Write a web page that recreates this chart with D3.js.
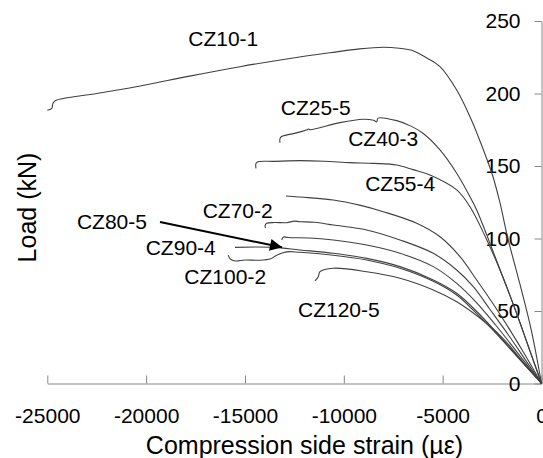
<!DOCTYPE html>
<html><head><meta charset="utf-8">
<script src="https://cdn.jsdelivr.net/npm/d3@7"></script>
<style>
html,body{margin:0;padding:0;background:#fff;}
svg{display:block;font-family:"Liberation Sans",Arial,sans-serif;}
</style></head>
<body><svg id="chart" width="543" height="458"></svg>
<script>
// ---- data (strain µε, load kN) ----
const xTicks = [-25000,-20000,-15000,-10000,-5000,0];
const yTicks = [0,50,100,150,200,250];
const seriesNames = ["CZ10-1","CZ25-5","CZ40-3","CZ55-4","CZ70-2","CZ80-5","CZ90-4","CZ100-2","CZ120-5"];
const cz10_1 = [[-25000,188.5],[-24780,189.5],[-24720,193],[-24600,195],[-22500,200],[-20300,205.2],[-17800,212],[-15250,218.5],[-12800,224],[-10700,228.1],[-9200,230.8],[-8000,231.9],[-7200,231.2],[-6500,229.5],[-5800,224.5],[-5135,218.5],[-4290,202.4],[-3617,184],[-2960,161.9],[-2454,142.6],[-2099,124.5],[-1700,100],[-1100,69],[-520,37],[0,0]];
const cz25_5 = [[-13229,166.1],[-13200,169.8],[-12500,172.5],[-11879,174.8],[-11800,175.5],[-11700,175],[-10194,179.9],[-9015,182.2],[-8500,181.5],[-8337,180.4],[-8271,183],[-7325,181.3],[-6600,177.5],[-5995,172.6],[-5135,161.1],[-4290,145],[-3617,128.8],[-3278,119.7],[-2700,100],[-2000,75],[-1300,50],[-650,25],[0,0]];
const cz40_3 = [[-14443,148.4],[-14418,152.4],[-13500,153.2],[-12218,153.7],[-11000,153.3],[-9688,152.3],[-8500,151.8],[-7325,150.7],[-6500,147.5],[-5641,143.8],[-4290,133.5],[-3617,121.9],[-2800,100],[-2000,75],[-1250,48],[-600,23],[0,0]];
const cz55_4 = [[-12926,129.3],[-11800,128.2],[-10533,126.6],[-9200,123],[-8003,118.5],[-6314,110.5],[-5135,101.2],[-4123,87.5],[-3278,71.4],[-2400,54],[-1600,37],[-800,19],[0,0]];
const cz70_2 = [[-13963,107.2],[-13980,109],[-13902,110.5],[-13500,111],[-12891,110.9],[-12500,112],[-12218,111.6],[-11500,111.2],[-10533,109.3],[-8843,105.9],[-7158,99],[-5474,89.8],[-4290,78.3],[-3450,66.8],[-2600,51],[-1700,34],[-850,17],[0,0]];
const cz80_5 = [[-13143,99],[-13050,101],[-12825,100.7],[-11500,100.2],[-10533,99],[-8843,95.5],[-7158,89.8],[-5474,80.6],[-4290,69.1],[-3300,56],[-2300,40],[-1200,21],[0,0]];
const cz90_4 = [[-15506,93.9],[-13568,93.9],[-12218,92.1],[-10533,89.8],[-8843,86.3],[-7158,80.6],[-5474,71.4],[-4290,62.2],[-3300,50],[-2300,35.5],[-1200,18.5],[0,0]];
const cz100_2 = [[-15850,88.5],[-15750,86],[-15500,84.5],[-15000,85.2],[-14300,85],[-13700,86],[-13400,88.5],[-12900,90.8],[-12218,90.5],[-10533,88.5],[-8843,85.2],[-7158,79.5],[-5474,70.5],[-4290,61],[-3300,48.5],[-2300,34.5],[-1200,18],[0,0]];
const cz120_5 = [[-11459,70.7],[-11292,73.7],[-11206,77.1],[-10533,79.5],[-8843,77.1],[-7158,72.6],[-5474,64.5],[-4290,56.4],[-3200,46],[-2013,32],[-1000,16],[0,0]];
// label anchor positions (strain, load) — text centre / baseline
const labelPos = [[-16100,232.8],[-11420,185],[-8010,164],[-7150,132.7],[-15370,114.2],[-21730,106.3],[-18250,88.4],[-16000,68.6],[-10250,46.2]];
// arrow pointing to CZ80-5
const arrowFrom = [-19300,111.4];
const arrowTo = [-13128,93.9];

const seriesData = [cz10_1,cz25_5,cz40_3,cz55_4,cz70_2,cz80_5,cz90_4,cz100_2,cz120_5];

const svg = d3.select("#chart");
const x = d3.scaleLinear().domain([-25000,0]).range([47.3,541.5]);
const y = d3.scaleLinear().domain([0,250]).range([383.5,21]);
const axisColor = "#868686";
const font = "Liberation Sans, Arial, sans-serif";

// x axis (ticks upward)
const gx = svg.append("g").attr("transform",`translate(0,${y(0)})`)
  .call(d3.axisBottom(x).tickValues(xTicks).tickSize(-8).tickSizeOuter(0).tickPadding(25).tickFormat(d => String(d)));
gx.select(".domain").attr("stroke",axisColor);
gx.selectAll(".tick line").attr("stroke",axisColor);
gx.selectAll("text").attr("font-size",21).attr("fill","#000").attr("font-family",font);

// y axis on the right (x=0)
const gy = svg.append("g").attr("transform",`translate(${x(0)},0)`)
  .call(d3.axisLeft(y).tickValues(yTicks).tickSize(7).tickSizeOuter(0).tickPadding(14).tickFormat(d => String(d)));
gy.select(".domain").attr("stroke",axisColor);
gy.selectAll(".tick line").attr("stroke",axisColor);
gy.selectAll("text").attr("font-size",21).attr("fill","#000").attr("font-family",font);

// curves
const line = d3.line().x(d=>x(d[0])).y(d=>y(d[1])).curve(d3.curveCatmullRom.alpha(0.5));
svg.append("g").selectAll("path").data(seriesData).join("path")
  .attr("d",line).attr("fill","none").attr("stroke","#404040").attr("stroke-width",1.1);

// labels
svg.append("g").selectAll("text").data(seriesNames).join("text")
  .attr("x",(d,i)=>x(labelPos[i][0])).attr("y",(d,i)=>y(labelPos[i][1]))
  .attr("text-anchor","middle").attr("font-size",21).attr("fill","#000").text(d=>d);

// arrow
const defs = svg.append("defs");
defs.append("marker").attr("id","ah").attr("viewBox","0 0 10 10").attr("refX",10).attr("refY",5)
  .attr("markerWidth",7).attr("markerHeight",6).attr("markerUnits","strokeWidth").attr("orient","auto")
  .append("path").attr("d","M0,0L10,5L0,10z").attr("fill","#000");
svg.append("line").attr("x1",x(arrowFrom[0])).attr("y1",y(arrowFrom[1]))
  .attr("x2",x(arrowTo[0])).attr("y2",y(arrowTo[1]))
  .attr("stroke","#000").attr("stroke-width",2).attr("marker-end","url(#ah)");

// axis titles
svg.append("text").attr("x",304.5).attr("y",454).attr("text-anchor","middle").attr("font-size",25).attr("fill","#000")
  .text("Compression side strain (µε)");
svg.append("text").attr("transform","translate(36,207.5) rotate(-90)").attr("text-anchor","middle").attr("font-size",25).attr("fill","#000")
  .text("Load (kN)");
</script></body></html>
